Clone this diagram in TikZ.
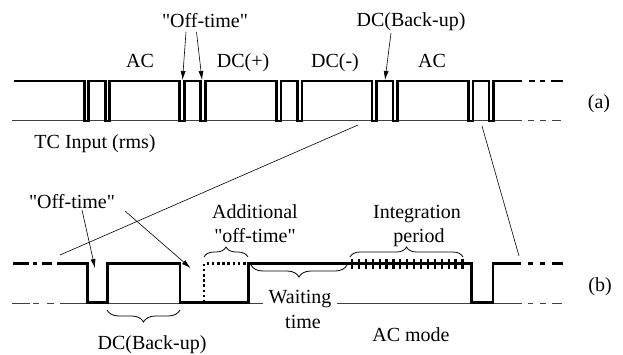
\documentclass[tikz,border=0pt]{standalone}
\usepackage{fontspec}
\newfontfamily\labelfont{Liberation Serif}
\usetikzlibrary{arrows.meta,decorations.pathreplacing}
\begin{document}
\begin{tikzpicture}[x=1pt,y=-1pt,
  wave/.style={line width=2.6pt, line join=miter, line cap=butt},
  base/.style={line width=0.8pt, black!75},
  lbl/.style={font=\labelfont\fontsize{20}{23}\selectfont, inner sep=0pt, anchor=base},
  pointer/.style={line width=0.6pt, -{Latex[length=9pt,width=5pt]}},
  zoomline/.style={line width=0.6pt},
  curly/.style={decorate, line width=0.8pt, decoration={brace, amplitude=#1}},
  tick/.style={line width=2.2pt}]
\useasboundingbox (0,0) rectangle (623,354);

% ---------- upper trace (a) ----------
\draw[base] (12,120) -- (522,120) (528,120) -- (534,120) (540,120) -- (546,120) (552,120) -- (561,120);
\draw[wave] (14,81)
  \foreach \a/\b in {84.5/88.5, 105.5/109.5, 179.5/184.5, 200.5/205.5, 276.5/281,
                     297.5/302, 372/376.5, 393/397.5, 468.5/473, 489/493.5}
  { -- (\a,81) -- (\a,121) -- (\b,121) -- (\b,81) } -- (522,81);
\draw[wave] (529,81) -- (535,81) (540,81) -- (545,81) (551,81) -- (563,81);

\node[lbl] (acA)   at (140,67) {AC};
\node[lbl] (dcp)   at (243,67) {DC(+)};
\node[lbl] (dcm)   at (335,67) {DC(-)};
\node[lbl] (acB)   at (432,67) {AC};
\node[lbl] (offA)  at (205,27) {"Off-time"};
\node[lbl] (bkA)   at (411,26) {DC(Back-up)};
\node[lbl] (tcin)  at (95,148) {TC Input (rms)};
\node[lbl] (tagA)  at (599,108) {(a)};

\coordinate (offA1s) at (186,32);   \coordinate (offA1e) at (182.5,80);
\coordinate (offA2s) at (196.5,32); \coordinate (offA2e) at (202,80);
\coordinate (bkAs)   at (391,33);   \coordinate (bkAe)   at (385,80);
\draw[pointer] (offA1s) -- (offA1e);
\draw[pointer] (offA2s) -- (offA2e);
\draw[pointer] (bkAs) -- (bkAe);

% ---------- zoom guides ----------
\coordinate (zl1) at (60,255);  \coordinate (zl2) at (358,125);
\coordinate (zr1) at (482,126); \coordinate (zr2) at (519,256);
\draw[zoomline] (zl1) -- (zl2);
\draw[zoomline] (zr1) -- (zr2);

% ---------- lower trace (b) ----------
\draw[base] (12,303) -- (30,303) (33,303) -- (39,303) (47,303) -- (54,303) (60,303) -- (522,303)
            (528,303) -- (533,303) (540,303) -- (546,303) (552,303) -- (562,303);
\draw[wave] (13,263.5) -- (29,263.5) (33,263.5) -- (37,263.5) (42,263.5) -- (52,263.5);
\draw[wave] (57,263.5) -- (87.5,263.5) -- (87.5,302.5) -- (107.5,302.5) -- (107.5,263.5)
  -- (180,263.5) -- (180,302.5) -- (248.5,302.5) -- (248.5,263.5)
  -- (471.5,263.5) -- (471.5,302.5) -- (493,302.5) -- (493,263.5) -- (521,263.5);
\draw[wave] (528,263.5) -- (533,263.5) (540,263.5) -- (545,263.5) (552,263.5) -- (563,263.5);
\draw[wave, dash pattern=on 2.6pt off 2.6pt] (204,302.5) -- (204,263.5) -- (248.5,263.5);
\foreach \i in {0,...,16} \draw[tick] ({352+\i*6.9},258.5) -- ({352+\i*6.9},268.5);

\draw[curly=10pt] (204,257) -- (248,257);
\draw[curly=10pt] (350,257) -- (463,257);
\draw[curly=12pt] (347,265) -- (251,265);
\draw[curly=12pt] (180,310) -- (107,310);

\node[lbl] (offB)  at (72,208) {"Off-time"};
\node[lbl] (addl)  at (255,218) {Additional};
\node[lbl] (addl2) at (255,242) {"off-time"};
\node[lbl] (integ) at (417,218) {Integration};
\node[lbl] (integ2) at (419,242) {period};
\node[lbl, fill=white, inner xsep=6pt] (wait) at (300,303) {Waiting};
\node[lbl] (wait2) at (303,328) {time};
\node[lbl] (bkB)   at (152,349) {DC(Back-up)};
\node[lbl] (acm)   at (411,341) {AC mode};
\node[lbl] (tagB)  at (600,291) {(b)};

\coordinate (offB1s) at (82,210);  \coordinate (offB1e) at (95,268);
\coordinate (offB2s) at (125,211); \coordinate (offB2e) at (190.5,268);
\draw[pointer] (offB1s) -- (offB1e);
\draw[pointer] (offB2s) -- (offB2e);
\end{tikzpicture}
\end{document}
